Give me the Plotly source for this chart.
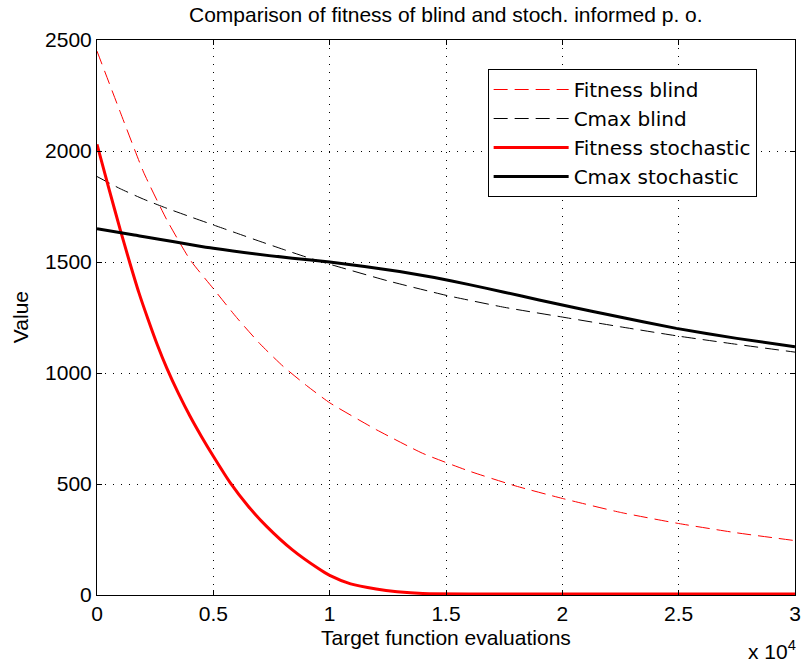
import plotly.graph_objects as go

# ---- data (x in target function evaluations) ----
x_fit_blind = [0, 1000, 2000, 3000, 4000, 5000, 6000, 7000, 8000, 9000, 10000,
               12000, 14000, 16000, 18000, 20000, 22500, 25000, 27500, 30000]
y_fit_blind = [2450, 2175, 1905, 1690, 1510, 1380, 1250, 1132, 1030, 944, 866,
               745, 638, 558, 491, 435, 372, 322, 280, 245]

x_cmax_blind = [0, 1000, 2000, 3000, 4000, 5000, 6000, 7000, 8000, 9000, 10000,
                12500, 15000, 17500, 20000, 22500, 25000, 27500, 30000]
y_cmax_blind = [1885, 1830, 1783, 1742, 1704, 1667, 1630, 1593, 1557, 1522, 1490,
                1415, 1350, 1296, 1252, 1208, 1166, 1129, 1094]

x_fit_stoch = [0, 500, 1000, 1400, 1800, 2200, 2600, 3000, 3500, 4000, 4500, 5000, 5730,
               6500, 7300, 8400, 9500, 10000, 10900, 12000, 12900, 14000, 20000, 30000]
y_fit_stoch = [2030, 1835, 1645, 1500, 1362, 1240, 1125, 1022, 908, 805, 712, 625, 505,
               400, 308, 203, 120, 88, 50, 27, 15, 7, 5, 4]

x_cmax_stoch = [0, 1600, 5000, 8400, 10000, 11500, 13000, 14500, 16000, 17500, 19000,
                20500, 22000, 24900, 27500, 30000]
y_cmax_stoch = [1650, 1622, 1562, 1517, 1500, 1480, 1457, 1430, 1398, 1364, 1329,
                1295, 1262, 1201, 1156, 1118]

x_tickvals = [0, 5000, 10000, 15000, 20000, 25000, 30000]
x_ticktext = ["0", "0.5", "1", "1.5", "2", "2.5", "3"]
y_tickvals = [0, 500, 1000, 1500, 2000, 2500]

title_text = "Comparison of fitness of blind and stoch. informed p. o."
xlabel_text = "Target function evaluations"
ylabel_text = "Value"

FONT = "Liberation Sans, Arial, sans-serif"
LEGFONT = "DejaVu Sans, Verdana, sans-serif"

fig = go.Figure()
fig.add_trace(go.Scatter(x=x_fit_blind, y=y_fit_blind, mode="lines", name="Fitness blind",
                         line=dict(color="#ff0000", width=1, dash="14px,7px",
                                   shape="spline", smoothing=0.5)))
fig.add_trace(go.Scatter(x=x_cmax_blind, y=y_cmax_blind, mode="lines", name="Cmax blind",
                         line=dict(color="#000000", width=1, dash="14px,7px",
                                   shape="spline", smoothing=0.5)))
fig.add_trace(go.Scatter(x=x_fit_stoch, y=y_fit_stoch, mode="lines", name="Fitness stochastic",
                         line=dict(color="#ff0000", width=3, shape="spline", smoothing=0.6)))
fig.add_trace(go.Scatter(x=x_cmax_stoch, y=y_cmax_stoch, mode="lines", name="Cmax stochastic",
                         line=dict(color="#000000", width=3, shape="spline", smoothing=0.5)))

axis_common = dict(showline=True, linecolor="#000000", linewidth=1, mirror="allticks",
                   ticks="inside", ticklen=5, tickcolor="#000000", zeroline=False,
                   showgrid=True, gridcolor="#000000", gridwidth=1, griddash="1px,7px",
                   ticklabeloverflow="allow",
                   tickfont=dict(family=FONT, size=21, color="#000000"))

fig.update_xaxes(range=[0, 30000], tickvals=x_tickvals, ticktext=x_ticktext, **axis_common)
fig.update_yaxes(range=[0, 2500], tickvals=y_tickvals, **axis_common)

fig.update_layout(
    width=802, height=662,
    margin=dict(l=97, r=1, t=40, b=67),
    paper_bgcolor="white", plot_bgcolor="white",
    showlegend=True,
    legend=dict(x=(491 - 97) / 704, y=(595 - 69) / 555, xanchor="left", yanchor="top",
                bgcolor="white", bordercolor="#000000", borderwidth=1,
                font=dict(family=LEGFONT, size=20, color="#000000"),
                itemwidth=75),
    annotations=[
        dict(text=title_text, xref="paper", yref="paper", x=0.5, y=(595 - 14) / 555,
             xanchor="center", yanchor="middle", showarrow=False,
             font=dict(family=FONT, size=21, color="#000000")),
        dict(text=xlabel_text, xref="paper", yref="paper", x=0.5, y=(595 - 637) / 555,
             xanchor="center", yanchor="middle", showarrow=False,
             font=dict(family=FONT, size=21, color="#000000")),
        dict(text=ylabel_text, xref="paper", yref="paper", x=(20 - 97) / 704, y=0.5,
             xanchor="center", yanchor="middle", textangle=-90, showarrow=False,
             font=dict(family=FONT, size=21, color="#000000")),
        dict(text="x 10<sup>4</sup>", xref="paper", yref="paper", x=(752 - 97) / 704,
             y=(595 - 650) / 555, xanchor="left", yanchor="middle", showarrow=False,
             font=dict(family=FONT, size=21, color="#000000")),
    ],
)

fig.write_html("out.html")
